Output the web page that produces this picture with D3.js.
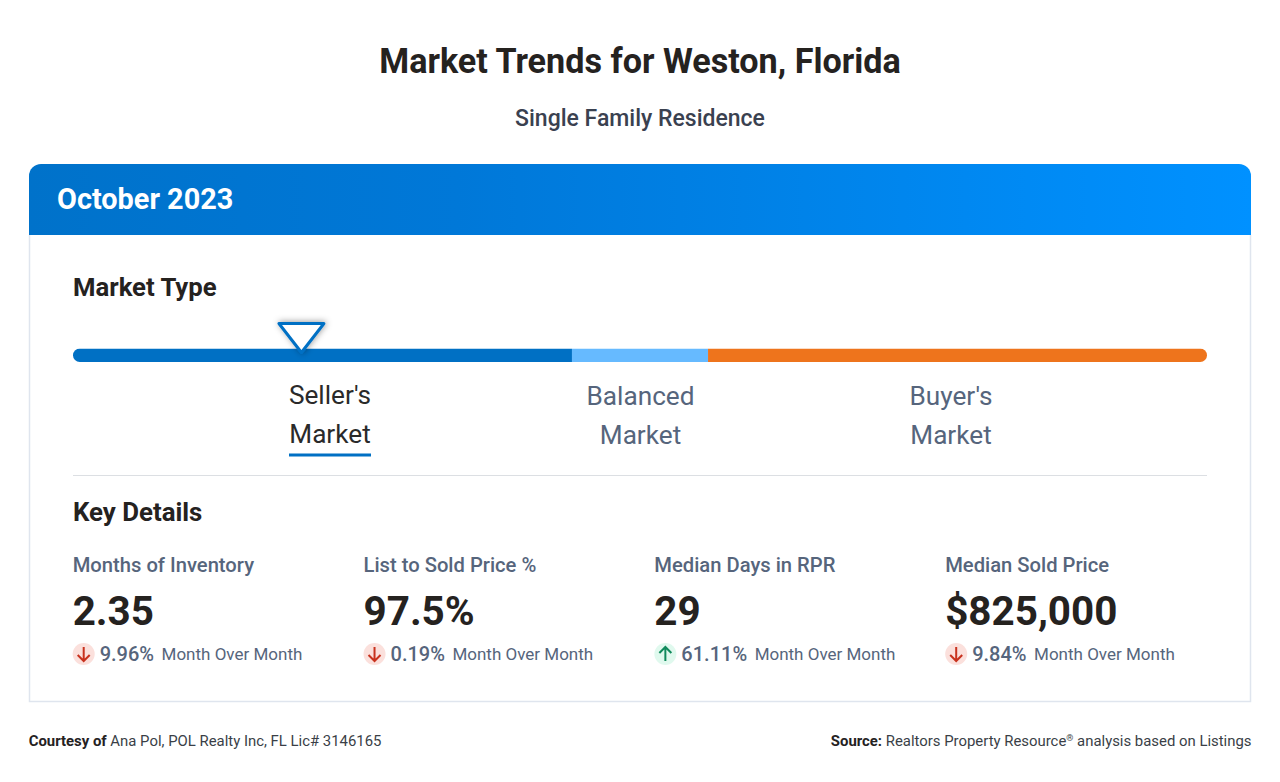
<!DOCTYPE html>
<html>
<head>
<meta charset="utf-8">
<title>Market Trends for Weston, Florida</title>
<script src="https://cdn.jsdelivr.net/npm/d3@7"></script>
<style>
html, body { margin: 0; padding: 0; background: #fff; }
svg { display: block; }
text { font-family: Roboto, sans-serif; }
</style>
</head>
<body>
<div id="viz"></div>
<script>
// data
var segmentNames = ["Seller's", "Balanced", "Buyer's"];
var segmentShares = [44, 12, 44];
var segmentColors = ["#0070c4", "#66baff", "#ee741c"];
var markerValue = 20.1;

var detailLabels = ["Months of Inventory", "List to Sold Price %", "Median Days in RPR", "Median Sold Price"];
var detailValues = ["2.35", "97.5%", "29", "$825,000"];
var detailChanges = ["9.96%", "0.19%", "61.11%", "9.84%"];
var detailDirections = ["down", "down", "up", "down"];

var width = 1280, height = 782;
var svg = d3.select("#viz").append("svg")
	.attr("width", width)
	.attr("height", height);

var defs = svg.append("defs");
var grad = defs.append("linearGradient")
	.attr("id", "head")
	.attr("x1", "0%").attr("y1", "0%")
	.attr("x2", "100%").attr("y2", "0%");
grad.append("stop").attr("offset", "0%").attr("stop-color", "#0072ca");
grad.append("stop").attr("offset", "35%").attr("stop-color", "#0078d8");
grad.append("stop").attr("offset", "100%").attr("stop-color", "#0091ff");

var shadow = defs.append("filter").attr("id", "shadow")
	.attr("x", "-30%").attr("y", "-30%").attr("width", "160%").attr("height", "160%");
shadow.append("feDropShadow")
	.attr("dx", 1).attr("dy", -0.5)
	.attr("stdDeviation", 3)
	.attr("flood-color", "#000")
	.attr("flood-opacity", 0.4);

function label(x, y, str, size, weight, color, anchor) {
	return svg.append("text")
		.attr("x", x).attr("y", y)
		.attr("font-size", size)
		.attr("font-weight", weight)
		.attr("fill", color)
		.attr("text-anchor", anchor || "start")
		.text(str);
}

label(640, 73, "Market Trends for Weston, Florida", 34.15, 700, "#25221f", "middle");
label(640, 125.5, "Single Family Residence", 23, 500, "#3a4150", "middle");

// card
svg.append("path")
	.attr("d", "M29.5,235 V701.5 H1250.5 V235")
	.attr("fill", "#fff")
	.attr("stroke", "#dfe5ee")
	.attr("stroke-width", 1.5);
svg.append("path")
	.attr("d", "M29,235 V176 A12,12 0 0 1 41,164 H1239 A12,12 0 0 1 1251,176 V235 Z")
	.attr("fill", "url(#head)");
label(57, 209, "October 2023", 28.85, 700, "#fff");

label(73, 296, "Market Type", 25.7, 700, "#25221f");

// bar of market types
var x = d3.scaleLinear().domain([0, 100]).range([73, 1207]);
var stacked = d3.cumsum(segmentShares);
var barTop = 348.5, barH = 13.5;

var clip = defs.append("clipPath").attr("id", "barclip");
clip.append("rect")
	.attr("x", x(0)).attr("y", barTop)
	.attr("width", x(100) - x(0)).attr("height", barH)
	.attr("rx", barH / 2);

svg.append("g")
	.attr("clip-path", "url(#barclip)")
	.selectAll("rect")
	.data(segmentShares)
	.enter()
	.append("rect")
	.attr("x", function(d, i) { return x(stacked[i] - d); })
	.attr("y", barTop)
	.attr("width", function(d) { return x(d) - x(0); })
	.attr("height", barH)
	.attr("fill", function(d, i) { return segmentColors[i]; });

// marker
var mx = x(markerValue) + 0.5;
svg.append("path")
	.attr("d", "M" + (mx - 22.5) + ",323.5 H" + (mx + 22.5) + " L" + mx + ",352.5 Z")
	.attr("fill", "#fff")
	.attr("stroke", "#0070c4")
	.attr("stroke-width", 3)
	.attr("stroke-linejoin", "round")
	.attr("filter", "url(#shadow)");

// market names
var nameX = [330, 640.5, 951];
segmentNames.forEach(function(name, i) {
	var active = i === 0;
	var off = active ? 0 : 1;
	var col = active ? "#2a2a2a" : "#56657c";
	label(nameX[i], 404 + off, name, 26.2, 400, col, "middle");
	label(nameX[i], 442.5 + off, "Market", 26.2, 400, col, "middle");
});
svg.append("rect")
	.attr("x", 289).attr("y", 453.5)
	.attr("width", 82).attr("height", 3)
	.attr("fill", "#0070c4");

svg.append("line")
	.attr("x1", 73).attr("x2", 1207)
	.attr("y1", 475.5).attr("y2", 475.5)
	.attr("stroke", "#dcdfe3");

label(73, 521, "Key Details", 25.8, 700, "#25221f");

// key details
var col = d3.scalePoint().domain(d3.range(4)).range([72.7, 945.2]);
var arrowColor = { down: "#c8321e", up: "#108a5c" };
var arrowBack = { down: "#fbe0dc", up: "#e0f9ee" };

detailLabels.forEach(function(name, i) {
	var cx = col(i);
	label(cx, 571.5, name, 20.2, 500, "#56657c");
	label(cx, 625, detailValues[i], 40.4, 700, "#25221f");

	var dir = detailDirections[i];
	var g = svg.append("g").attr("transform", "translate(" + (cx + 11) + ",654)");
	g.append("circle").attr("r", 11).attr("fill", arrowBack[dir]);
	var s = dir === "down" ? 1 : -1;
	g.append("path")
		.attr("d", "M0," + (-7 * s) + " V" + (7 * s) + " M" + (-6) + "," + (1 * s) + " L0," + (7 * s) + " L6," + (1 * s))
		.attr("fill", "none")
		.attr("stroke", arrowColor[dir])
		.attr("stroke-width", 2);

	var pct = label(cx + 27, 661, detailChanges[i], 20, 500, "#56657c");
	var w = pct.node().getComputedTextLength();
	label(cx + 27 + w + 7.5, 660, "Month Over Month", 17, 400, "#56657c");
});

// footer
var left = label(28.7, 746, "", 14.9, 400, "#3a3f47");
left.append("tspan").attr("font-weight", 700).attr("fill", "#25221f").text("Courtesy of ");
left.append("tspan").text("Ana Pol, POL Realty Inc, FL Lic# 3146165");

var right = label(1251.5, 746, "", 14.9, 400, "#3a3f47", "end");
right.append("tspan").attr("font-weight", 700).attr("fill", "#25221f").text("Source: ");
right.append("tspan").text("Realtors Property Resource");
right.append("tspan").attr("font-size", 9).attr("dy", -5).text("\u00ae");
right.append("tspan").attr("dy", 5).text(" analysis based on Listings");
</script>
</body>
</html>
